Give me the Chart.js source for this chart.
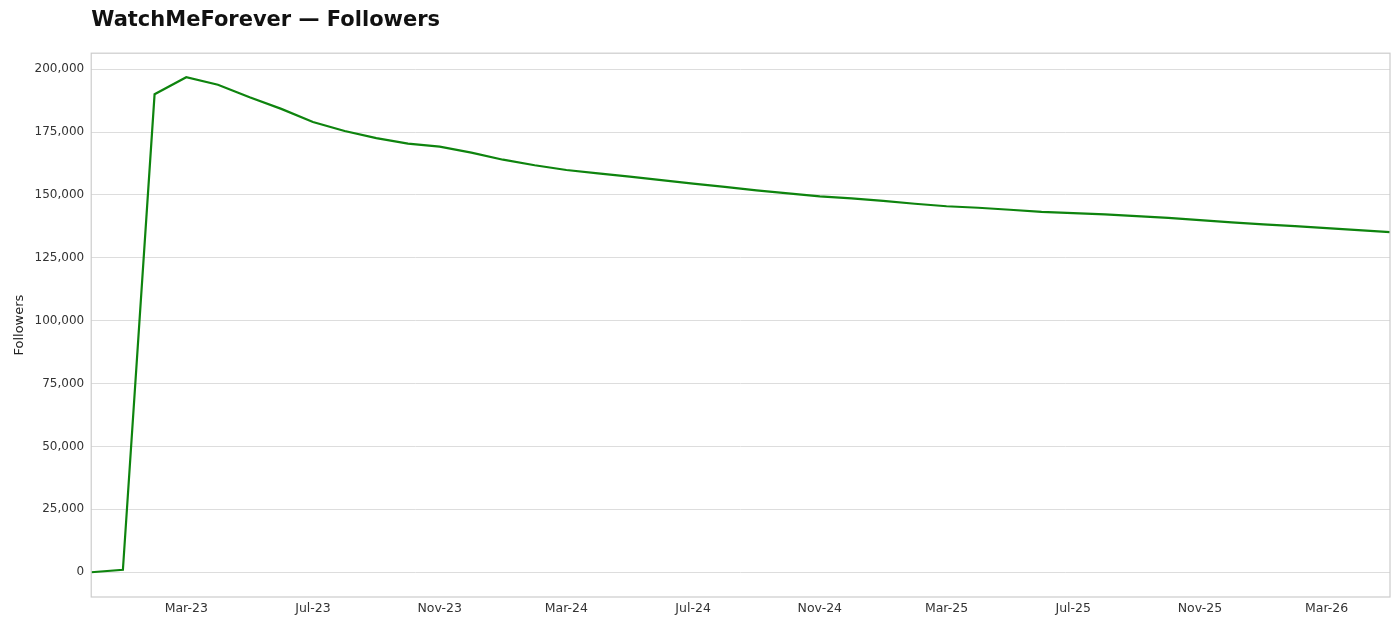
<!DOCTYPE html>
<html lang="en">
<head>
    <meta charset="UTF-8">
    <title>WatchMeForever — Followers</title>
    <script src="https://cdn.jsdelivr.net/npm/chart.js"></script>
    <style>
        html, body { margin: 0; padding: 0; background: #fff; }
        .wrap { width: 1400px; height: 626px; position: relative; }
    </style>
</head>
<body>
    <div class="wrap">
        <canvas id="followersChart"></canvas>
    </div>
    <script>
        // monthly points, Dec-22 .. May-26
        const months = [
            'Dec-22', 'Jan-23', 'Feb-23', 'Mar-23', 'Apr-23', 'May-23', 'Jun-23', 'Jul-23',
            'Aug-23', 'Sep-23', 'Oct-23', 'Nov-23', 'Dec-23', 'Jan-24', 'Feb-24', 'Mar-24',
            'Apr-24', 'May-24', 'Jun-24', 'Jul-24', 'Aug-24', 'Sep-24', 'Oct-24', 'Nov-24',
            'Dec-24', 'Jan-25', 'Feb-25', 'Mar-25', 'Apr-25', 'May-25', 'Jun-25', 'Jul-25',
            'Aug-25', 'Sep-25', 'Oct-25', 'Nov-25', 'Dec-25', 'Jan-26', 'Feb-26', 'Mar-26',
            'Apr-26', 'May-26'
        ];
        const followers = [
            0, 1000, 190000, 196800, 193800, 188800, 184200, 179000,
            175400, 172600, 170400, 169200, 166800, 164000, 161800, 159900,
            158600, 157300, 155900, 154500, 153200, 151800, 150600, 149400,
            148600, 147600, 146500, 145500, 144900, 144100, 143300, 142800,
            142300, 141600, 140900, 140000, 139100, 138300, 137600, 136800,
            136000, 135200
        ];
        const shownTicks = ['Mar-23', 'Jul-23', 'Nov-23', 'Mar-24', 'Jul-24', 'Nov-24', 'Mar-25', 'Jul-25', 'Nov-25', 'Mar-26'];
        const yTicks = [0, 25000, 50000, 75000, 100000, 125000, 150000, 175000, 200000];

        // light frame around the plot area, like the matplotlib spines
        const frame = {
            id: 'frame',
            afterDraw(chart) {
                const a = chart.chartArea;
                const c = chart.ctx;
                c.save();
                c.strokeStyle = '#cccccc';
                c.lineWidth = 1.2;
                c.strokeRect(a.left, a.top, a.right - a.left, a.bottom - a.top);
                c.restore();
            }
        };

        const ctx = document.getElementById('followersChart').getContext('2d');
        new Chart(ctx, {
            type: 'line',
            data: {
                labels: months,
                datasets: [{
                    label: 'Followers',
                    data: followers,
                    borderColor: '#0e840e',
                    borderWidth: 2.2,
                    pointRadius: 0,
                    tension: 0,
                    fill: false
                }]
            },
            options: {
                responsive: true,
                maintainAspectRatio: false,
                animation: false,
                layout: { padding: { left: 12, right: 10, top: 2, bottom: 6 } },
                plugins: {
                    legend: { display: false },
                    tooltip: { enabled: false },
                    title: {
                        display: true,
                        text: 'WatchMeForever — Followers',
                        align: 'start',
                        fullSize: false,
                        color: '#111',
                        font: { family: 'DejaVu Sans', size: 21, weight: 'bold' },
                        padding: { top: 6, bottom: 20 }
                    }
                },
                scales: {
                    x: {
                        type: 'category',
                        offset: false,
                        grid: { display: false, drawTicks: false },
                        border: { display: false },
                        ticks: {
                            autoSkip: false,
                            maxRotation: 0,
                            padding: 4,
                            color: '#333',
                            font: { family: 'DejaVu Sans', size: 12.5 },
                            callback: function (v) {
                                const lab = this.getLabelForValue(v);
                                return shownTicks.includes(lab) ? lab : '';
                            }
                        }
                    },
                    y: {
                        min: -9840,
                        max: 206340,
                        afterBuildTicks: (axis) => {
                            axis.ticks = yTicks.map(v => ({ value: v }));
                        },
                        grid: { color: '#dddddd', lineWidth: 1, drawTicks: false },
                        border: { display: false },
                        ticks: {
                            padding: 7,
                            color: '#333',
                            font: { family: 'DejaVu Sans', size: 12 },
                            callback: (v) => v.toLocaleString('en-US')
                        },
                        title: {
                            display: true,
                            text: 'Followers',
                            color: '#222',
                            font: { family: 'DejaVu Sans', size: 13 },
                            padding: { top: 0, bottom: 0 }
                        }
                    }
                }
            },
            plugins: [frame]
        });
    </script>
</body>
</html>
